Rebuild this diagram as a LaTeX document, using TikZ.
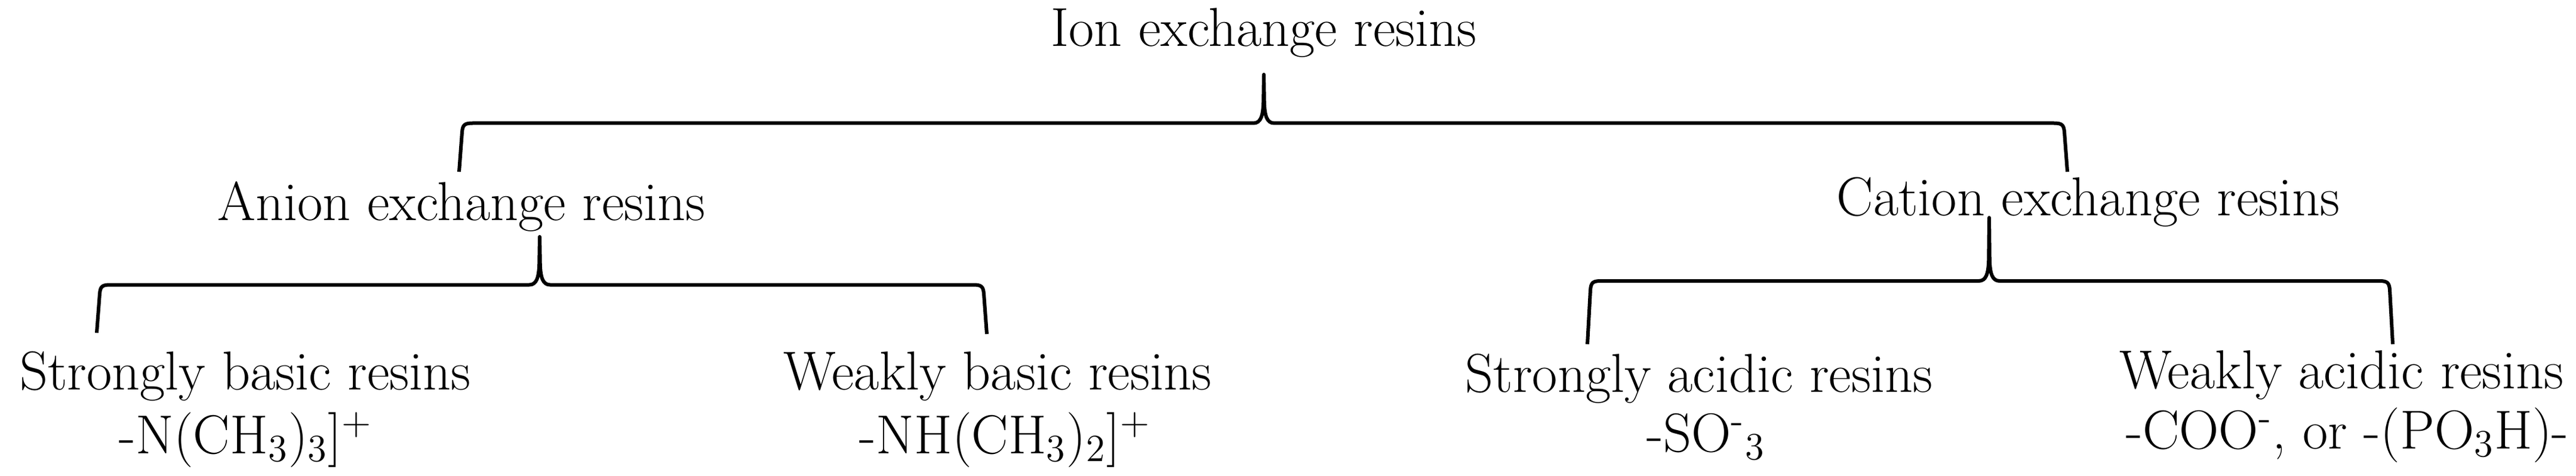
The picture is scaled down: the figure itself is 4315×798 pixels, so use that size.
\documentclass[tikz,border=0pt]{standalone}
\usepackage{fontspec}
\usetikzlibrary{calc}

% curly bracket: #1 tip, #2 left foot, #3 right foot
\newcommand{\resinbrace}[3]{%
  \draw[brace line] let \p1=(#1), \p2=(#2), \p3=(#3), \p4=($(#1)!.5!(#2)$) in
    (\p2) -- (\x2+1pt,\y4-3pt) .. controls (\x2+1.2pt,\y4-0.6pt) and (\x2+1.8pt,\y4) .. (\x2+4.5pt,\y4)
    -- (\x1-3.5pt,\y4) .. controls (\x1-1pt,\y4) and (\x1-0.3pt,\y4+2.5pt) .. (\x1-0.15pt,\y4+7pt)
    -- (\p1) -- (\x1+0.15pt,\y4+7pt) .. controls (\x1+0.3pt,\y4+2.5pt) and (\x1+1pt,\y4) .. (\x1+3.5pt,\y4)
    -- (\x3-4.5pt,\y4) .. controls (\x3-1.8pt,\y4) and (\x3-1.2pt,\y4-0.6pt) .. (\x3-1pt,\y4-3pt) -- (\p3);}

\begin{document}
\begin{tikzpicture}[x=0.2pt, y=-0.2pt,
    restext/.style={font=\fontsize{18.4pt}{22pt}\selectfont, inner sep=0pt, anchor=base},
    brace line/.style={line width=1.2pt, line join=round}]
    \useasboundingbox (0,0) rectangle (4315,798);

    \node[restext] (ion) at (2117,78) {Ion exchange resins};
    \node[restext] (anion) at (773,370) {Anion exchange resins};
    \node[restext] (cation) at (3498,361) {Cation exchange resins};

    \node[restext] (sbasic) at (411,653) {Strongly basic resins};
    \node[restext] (sbasicf) at (412,760) {-N(CH\textsubscript{3})\textsubscript{3}]\textsuperscript{+}};
    \node[restext] (wbasic) at (1671,653) {Weakly basic resins};
    \node[restext] (wbasicf) at (1684,760) {-NH(CH\textsubscript{3})\textsubscript{2}]\textsuperscript{+}};
    \node[restext] (sacid) at (2846,657) {Strongly acidic resins};
    \node[restext] (sacidf) at (2858,757) {-SO\textsuperscript{-}\textsubscript{3}};
    \node[restext] (wacid) at (3922,651) {Weakly acidic resins};
    \node[restext] (wacidf) at (3932,752) {-COO\textsuperscript{-}, or -(PO\textsubscript{3}H)-};

    \coordinate (ionTip) at (2117,125); \coordinate (ionL) at (769,288); \coordinate (ionR) at (3463,288);
    \coordinate (anionTip) at (904,397); \coordinate (anionL) at (162,558); \coordinate (anionR) at (1653,560);
    \coordinate (cationTip) at (3332,365); \coordinate (cationL) at (2659,577); \coordinate (cationR) at (4008,577);
    \foreach \b in {ion,anion,cation} \resinbrace{\b Tip}{\b L}{\b R};
\end{tikzpicture}
\end{document}
